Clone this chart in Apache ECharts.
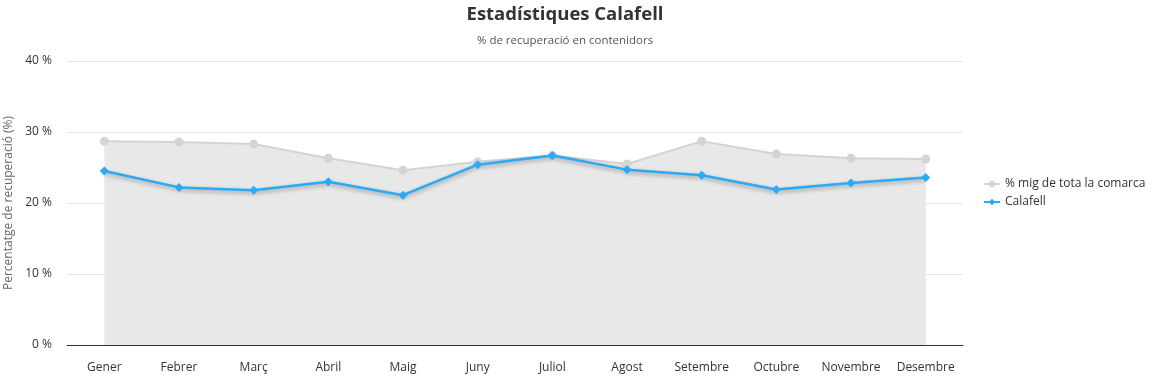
<!DOCTYPE html>
<html><head><meta charset="utf-8">
<script src="https://cdn.jsdelivr.net/npm/echarts@6/dist/echarts.min.js"></script>
<style>html,body{margin:0;padding:0;background:#fff}#c{width:1157px;height:378px}</style>
</head><body><div id="c"></div>
<script>
const categories = ['Gener','Febrer','Març','Abril','Maig','Juny','Juliol','Agost','Setembre','Octubre','Novembre','Desembre'];
const comarca = [28.7, 28.6, 28.3, 26.3, 24.6, 25.8, 26.7, 25.5, 28.7, 26.9, 26.3, 26.2];
const calafell = [24.5, 22.2, 21.8, 23.0, 21.1, 25.4, 26.7, 24.7, 23.9, 21.9, 22.8, 23.6];
const yTicks = [0, 10, 20, 30, 40];

const font = '"Open Sans", "Noto Sans", sans-serif';
const chart = echarts.init(document.getElementById('c'));
chart.setOption({
  animation: false,
  textStyle: {fontFamily: font},
  title: {
    text: 'Estadístiques Calafell',
    subtext: '% de recuperació en contenidors',
    left: 560, top: 0, textAlign: 'center',
    itemGap: 11,
    textStyle: {fontFamily: font, fontSize: 18.5, fontWeight: 'bold', color: '#333'},
    subtextStyle: {fontFamily: font, fontSize: 11.5, color: '#555'}
  },
  legend: {
    orient: 'vertical', left: 978, top: 173, itemGap: 6,
    itemWidth: 16, itemHeight: 8,
    textStyle: {fontFamily: font, fontSize: 12, color: '#333'},
    data: ['% mig de tota la comarca', 'Calafell']
  },
  grid: {left: 67, right: 194, top: 61, bottom: 33, outerBoundsMode: 'none', containLabel: false},
  xAxis: {
    type: 'category', data: categories, boundaryGap: true,
    axisLine: {lineStyle: {color: '#333', width: 1}},
    axisTick: {show: false},
    axisLabel: {color: '#333', fontSize: 12, margin: 17, interval: 0}
  },
  yAxis: {
    type: 'value', min: yTicks[0], max: yTicks[yTicks.length-1], interval: 10,
    name: 'Percentatge de recuperació (%)', nameLocation: 'middle', nameGap: 51, nameRotate: 90,
    nameTextStyle: {color: '#666', fontSize: 12, fontFamily: font},
    axisLabel: {formatter: v => v + ' %', color: '#333', fontSize: 12, margin: 15},
    splitLine: {lineStyle: {color: '#e6e6e6'}},
    axisLine: {show: false}, axisTick: {show: false}
  },
  series: [
    {
      name: '% mig de tota la comarca', type: 'line', data: comarca,
      symbol: 'circle', symbolSize: 9,
      itemStyle: {color: '#d4d4d4'},
      lineStyle: {color: '#d4d4d4', width: 2},
      areaStyle: {color: '#e8e8e8', opacity: 1},
      z: 1
    },
    {
      name: 'Calafell', type: 'line', data: calafell,
      symbol: 'diamond', symbolSize: 9,
      itemStyle: {color: '#2ba9f5'},
      lineStyle: {color: '#2ba9f5', width: 2.5, shadowColor: 'rgba(0,0,0,0.35)', shadowBlur: 4, shadowOffsetY: 2},
      z: 3
    }
  ]
});
</script></body></html>
